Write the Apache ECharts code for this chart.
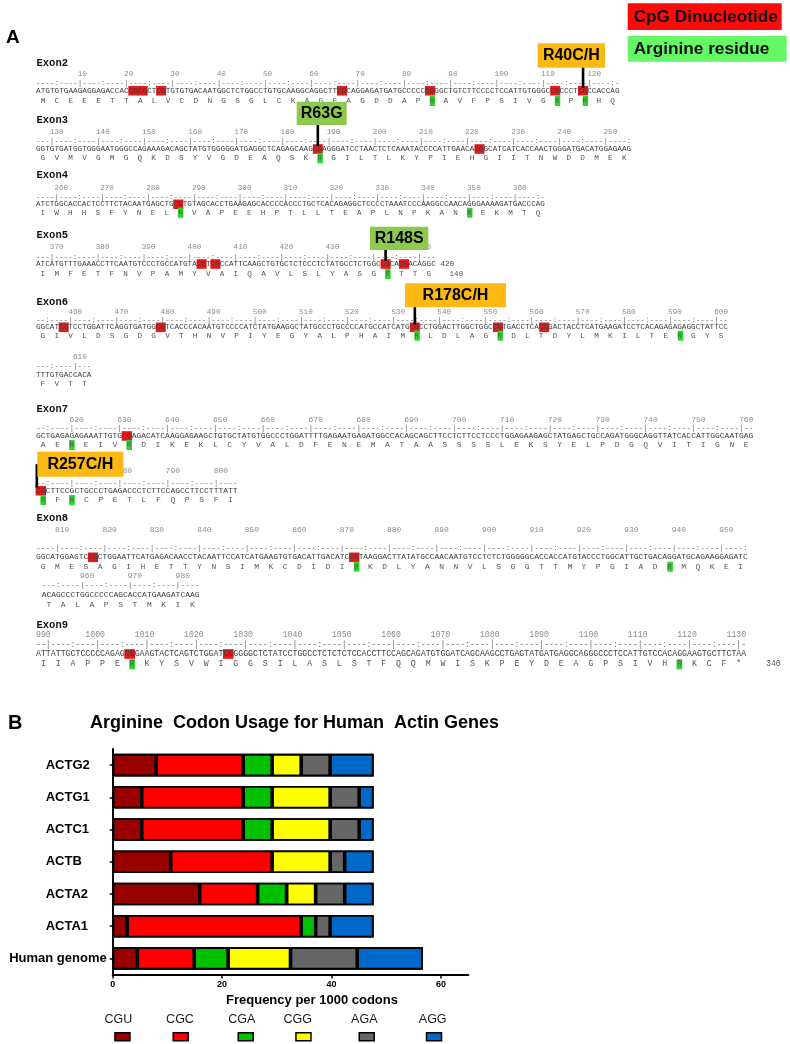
<!DOCTYPE html>
<html><head><meta charset="utf-8">
<script src="https://cdn.jsdelivr.net/npm/echarts@6/dist/echarts.min.js"></script>
<style>html,body{margin:0;padding:0;background:#fff}#c{width:790px;height:1044px}</style>
</head><body><div id="c"></div>
<script>
// ================= DATA =================
// Panel B: arginine codon usage (frequency per 1000 codons)
const genes = ['ACTG2', 'ACTG1', 'ACTC1', 'ACTB', 'ACTA2', 'ACTA1', 'Human genome'];
const codons = ['CGU', 'CGC', 'CGA', 'CGG', 'AGA', 'AGG'];
const CGU = [7.95, 5.3, 5.3, 10.6, 15.9, 2.65, 4.5];
const CGC = [15.9, 18.55, 18.55, 18.55, 10.6, 31.8, 10.4];
const CGA = [5.3, 5.3, 5.3, 0, 5.3, 2.65, 6.2];
const CGG = [5.3, 10.6, 10.6, 10.6, 5.3, 0, 11.4];
const AGA = [5.3, 5.3, 5.3, 2.65, 5.3, 2.65, 12.2];
const AGG = [7.95, 2.65, 2.65, 5.3, 5.3, 7.95, 12.0];
const xTicks = [0, 20, 40, 60];
const chartTitle = 'Arginine  Codon Usage for Human  Actin Genes';
const xName = 'Frequency per 1000 codons';

// Panel A: sequence rows (lowercase cg = highlighted CpG dinucleotide)
const rowExon = ['Exon2', 'Exon3', 'Exon4', 'Exon5', 'Exon6', '', 'Exon7', '', 'Exon8', '', 'Exon9'];
const rowStart = [1, 127, 256, 367, 453, 602, 613, 763, 806, 952, 988];
const rowDNA = [
  'ATG TGT GAA GAG GAG ACC ACc gcg CTc gTG TGT GAC AAT GGC TCT GGC CTG TGC AAG GCA GGC TTc gCA GGA GAT GAT GCC CCC cgG GCT GTC TTC CCC TCC ATT GTG GGC cgC CCT cgC CAC CAG',
  'GGT GTG ATG GTG GGA ATG GGC CAG AAA GAC AGC TAT GTG GGG GAT GAG GCT CAG AGC AAG cgA GGG ATC CTA ACT CTC AAA TAC CCC ATT GAA CAc gGC ATC ATC ACC AAC TGG GAT GAC ATG GAG AAG',
  'ATC TGG CAC CAC TCC TTC TAC AAT GAG CTG cgT GTA GCA CCT GAA GAG CAC CCC ACC CTG CTC ACA GAG GCT CCC CTA AAT CCC AAG GCC AAC AGG GAA AAG ATG ACC CAG',
  'ATC ATG TTT GAA ACC TTC AAT GTC CCT GCC ATG TAc gTc gCC ATT CAA GCT GTG CTC TCC CTC TAT GCC TCT GGC cgC Acg ACA GGC',
  'GGC ATc gTC CTG GAT TCA GGT GAT GGc gTC ACC CAC AAT GTC CCC ATC TAT GAA GGC TAT GCC CTG CCC CAT GCC ATC ATG cgC CTG GAC TTG GCT GGC cgT GAC CTC Acg GAC TAC CTC ATG AAG ATC CTC ACA GAG AGA GGC TAT TCC',
  'TTT GTG ACC ACA',
  'GCT GAG AGA GAA ATT GTG cgA GAC ATC AAG GAG AAG CTG TGC TAT GTG GCC CTG GAT TTT GAG AAT GAG ATG GCC ACA GCA GCT TCC TCT TCC TCC CTG GAG AAG AGC TAT GAG CTG CCA GAT GGG CAG GTT ATC ACC ATT GGC AAT GAG',
  'cgC TTC CGC TGC CCT GAG ACC CTC TTC CAG CCT TCC TTT ATT',
  'GGC ATG GAG TCc gCT GGA ATT CAT GAG ACA ACC TAC AAT TCC ATC ATG AAG TGT GAC ATT GAC ATC cgT AAG GAC TTA TAT GCC AAC AAT GTC CTC TCT GGG GGC ACC ACC ATG TAC CCT GGC ATT GCT GAC AGG ATG CAG AAG GAG ATC',
  'ACA GCC CTG GCC CCC AGC ACC ATG AAG ATC AAG',
  'ATT ATT GCT CCC CCA GAG cgG AAG TAC TCA GTC TGG ATc gGG GGC TCT ATC CTG GCC TCT CTC TCC ACC TTC CAG CAG ATG TGG ATC AGC AAG CCT GAG TAT GAT GAG GCA GGG CCC TCC ATT GTC CAC AGG AAG TGC TTC TAA'
];
const rowProtein = [
  'MCEEETTALVCDNGSGLCKAGFAGDDAPRAVFPSIVGRPRHQ',
  'GVMVGMGQKDSYVGDEAQSKRGILTLKYPIEHGIITNWDDMEK',
  'IWHHSFYNELRVAPEEHPTLLTEAPLNPKANREKMTQ',
  'IMFETFNVPAMYVAIQAVLSLYASGRTTG',
  'GIVLDSGDGVTHNVPIYEGYALPHAIMRLDLAGRDLTDYLMKILTERGYS',
  'FVTT',
  'AEREIVRDIKEKLCYVALDFENEMATAASSSSLEKSYELPDGQVITIGNE',
  'RFRCPETLFQPSFI',
  'GMESAGIHETTYNSIMKCDIDIRKDLYANNVLSGGTTMYPGIADRMQKEI',
  'TALAPSTMKIK',
  'IIAPPERKYSVWIGGSILASLSTFQQMWISKPEYDEAGPSIVHRKCF*'
];
const rowDNASuffix = ['', '', '', ' 420', '', '', '', '', '', '', ''];
const rowProteinSuffix = ['', '', '', '   140', '', '', '', '', '', '', '    340'];

const mutText = ['R40C/H', 'R63G', 'R148S', 'R178C/H', 'R257C/H'];
const mutRow = [0, 1, 3, 4, 7];
const mutCodon = [39, 20, 25, 27, 0];
const keyText = ['CpG Dinucleotide', 'Arginine residue'];

// ================= LAYOUT / STYLE =================
const rowLayout = [
  {lab: 63.3, num: 74, rul: 82.7, dna: 90.7, pro: 101, cw: 4.636, x0: 36, ns: 0},
  {lab: 120, num: 131.7, rul: 140.7, dna: 149, pro: 158.3, cw: 4.62, x0: 36, ns: 0},
  {lab: 175, num: 188.3, rul: 196.7, dna: 204.3, pro: 212.7, cw: 4.59, x0: 36, ns: 0},
  {lab: 235.7, num: 247.3, rul: 256.7, dna: 264, pro: 274, cw: 4.6, x0: 36, ns: 0},
  {lab: 302.3, num: 311.7, rul: 320, dna: 327.3, pro: 335.7, cw: 4.62, x0: 36, ns: 0},
  {lab: 0, num: 357.3, rul: 366, dna: 375, pro: 384, cw: 4.62, x0: 36, ns: 0},
  {lab: 409.3, num: 420, rul: 428.3, dna: 436, pro: 445, cw: 4.78, x0: 36, ns: 0},
  {lab: 0, num: 470.7, rul: 482.7, dna: 490.7, pro: 500, cw: 4.8, x0: 36, ns: 0},
  {lab: 518.3, num: 530, rul: 548.3, dna: 557.3, pro: 566.7, cw: 4.75, x0: 36, ns: 0},
  {lab: 0, num: 575.7, rul: 585, dna: 595, pro: 605, cw: 4.78, x0: 41.7, ns: 0},
  {lab: 625, num: 635, rul: 645, dna: 654, pro: 664.3, cw: 4.93, x0: 36, ns: -2}
];
const mutBox = [[537.7, 43.3, 605, 67.7], [296.7, 101.7, 346.7, 125], [370, 226.7, 428.3, 250], [405, 283.3, 506, 307.3], [37.3, 451.7, 123.3, 476.7]];
const mutColor = ['#fdb913', '#8dc94f', '#8dc94f', '#fdb913', '#fdb913'];
const mutDx = [0, 0, 0, 0, -4];
const keyBox = [[627.7, 3.3, 781.7, 30], [627.7, 36, 786.7, 61.7]];
const keyColor = ['#ff0a0a', '#66f766'];
const codonColors = ['#990000', '#ff0000', '#00c000', '#ffff00', '#666666', '#0068c8'];
const legBoxX = [121.7, 180, 245, 302.7, 366, 433.3];
const legTextX = [118.3, 180, 241.7, 297.7, 364.3, 432.7];

const mono = "'Liberation Mono','DejaVu Sans Mono',monospace";
const sans = "'Liberation Sans',Arial,Helvetica,sans-serif";

function T(x, y, text, font, fill, align, z) {
  return {type: 'text', x: x, y: y, z: z || 3, silent: true,
    style: {text: text, font: font, fill: fill, align: align || 'left', verticalAlign: 'middle',
      textAlign: align || 'left', textVerticalAlign: 'middle'}};
}
function Rc(x, y, w, h, fill, z) {
  return {type: 'rect', z: z || 1, silent: true, shape: {x: x, y: y, width: w, height: h}, style: {fill: fill}};
}

const G = [];
G.push(T(6, 38, 'A', 'bold 19px ' + sans, '#000'));
G.push(T(8, 723, 'B', 'bold 20px ' + sans, '#000'));
G.push(T(90, 723, chartTitle, 'bold 18px ' + sans, '#000'));
keyText.forEach((t, i) => {
  const b = keyBox[i];
  G.push(Rc(b[0], b[1], b[2] - b[0], b[3] - b[1], keyColor[i], 1));
  G.push(T(b[0] + 6, (b[1] + b[3]) / 2 + 0.5, t, 'bold 17.2px ' + sans, '#111', 'left', 3));
});

const rowSeq = rowDNA.map(s => s.replace(/ /g, ''));
rowSeq.forEach((seq, i) => {
  const L = rowLayout[i], cw = L.cw, x0 = L.x0, fs = (cw / 0.6).toFixed(2);
  const n = seq.length, start = rowStart[i];
  if (rowExon[i]) G.push(T(36.5, L.lab, rowExon[i], 'bold 10.5px ' + mono, '#111'));
  let rul = '';
  const nums = new Array(n + 6).fill(' ');
  for (let k = 0; k < n; k++) {
    const p = start + k;
    rul += (p % 10 === 0) ? '|' : (p % 5 === 0 ? ':' : '-');
    if (p % 10 === 0) {
      const s = String(p);
      const c0 = k + L.ns;
      if (c0 >= 0) for (let j = 0; j < s.length; j++) nums[c0 + j] = s[j];
    }
  }
  G.push(T(x0, L.num, nums.join(''), fs + 'px ' + mono, '#8c8c8c'));
  G.push(T(x0, L.rul, rul, fs + 'px ' + mono, '#707070'));
  for (let k = 0; k < n - 1; k++) {
    if (seq[k] === 'c' && seq[k + 1] === 'g') {
      G.push(Rc(x0 + k * cw - 0.4, L.dna - 4.8, 2 * cw + 0.8, 9.6, '#e41a1c', 1));
    }
  }
  G.push(T(x0, L.dna, seq.toUpperCase() + rowDNASuffix[i], fs + 'px ' + mono, '#3c3c3c'));
  const prot = rowProtein[i];
  const pl = new Array(n).fill(' ');
  for (let c = 0; c < prot.length; c++) {
    pl[3 * c + 1] = prot[c];
    if (prot[c] === 'R') G.push(Rc(x0 + (3 * c + 1) * cw - 0.4, L.pro - 5, cw + 0.8, 10, '#26d926', 1));
  }
  G.push(T(x0, L.pro, pl.join('') + rowProteinSuffix[i], fs + 'px ' + mono, '#555'));
});

mutText.forEach((t, i) => {
  const L = rowLayout[mutRow[i]], b = mutBox[i];
  const lx = L.x0 + mutCodon[i] * 3 * L.cw + L.cw + mutDx[i];
  G.push({type: 'line', z: 4, silent: true, shape: {x1: lx, y1: (b[1] + b[3]) / 2, x2: lx, y2: L.dna - 3},
    style: {stroke: '#000', lineWidth: 2.6}});
  G.push(Rc(b[0], b[1], b[2] - b[0], b[3] - b[1], mutColor[i], 5));
  G.push(T((b[0] + b[2]) / 2, (b[1] + b[3]) / 2 + 0.5, t, 'bold 16px ' + sans, '#000', 'center', 6));
});

codons.forEach((c, i) => G.push(T(legTextX[i], 1020, c, '12.5px ' + sans, '#1a1a1a', 'center')));

// ================= CHART =================
const codonValues = [CGU, CGC, CGA, CGG, AGA, AGG];
const totals = genes.map((g, j) => codonValues.reduce((s, arr) => s + arr[j], 0));
const chart = echarts.init(document.getElementById('c'));
const stackSeries = codons.map((c, i) => ({
  name: c, type: 'bar', stack: 'total', data: codonValues[i], barWidth: '70%', barGap: '-100%', z: 3,
  itemStyle: {color: codonColors[i], borderColor: '#000', borderWidth: 1.8},
  emphasis: {disabled: true}
}));
// black outline underlay (fills any hairline gaps between segment borders)
stackSeries.unshift({
  name: 'outline', type: 'bar', data: totals, barWidth: '70%', barGap: '-100%', z: 2, silent: true,
  itemStyle: {color: '#000'}, emphasis: {disabled: true}
});
chart.setOption({
  animation: false,
  backgroundColor: '#fff',
  grid: {left: 112.7, top: 749, width: 355.6, height: 225.5, containLabel: false},
  xAxis: {
    type: 'value', min: 0, max: 65, interval: 20,
    axisLine: {show: true, lineStyle: {color: '#000', width: 2}},
    axisTick: {show: true, length: 4, lineStyle: {color: '#000', width: 1.5}, customValues: xTicks},
    axisLabel: {color: '#000', fontSize: 9, fontWeight: 'bold', fontFamily: sans, margin: 6, customValues: xTicks},
    splitLine: {show: false},
    name: xName, nameLocation: 'middle', nameGap: 19,
    nameTextStyle: {color: '#000', fontSize: 13, fontWeight: 'bold', fontFamily: sans, padding: [0, 0, 0, 43]}
  },
  yAxis: {
    type: 'category', data: genes, inverse: true,
    axisLine: {show: true, lineStyle: {color: '#000', width: 2}},
    axisTick: {show: true, length: 3, alignWithLabel: true, lineStyle: {color: '#000', width: 1.5}},
    axisLabel: {
      margin: 6, color: '#000', fontSize: 13, fontWeight: 'bold', fontFamily: sans,
      formatter: v => v === 'Human genome' ? v : '{a|' + v + '}',
      rich: {a: {width: 61, align: 'left', fontSize: 13, fontWeight: 'bold', fontFamily: sans, color: '#000'}}
    }
  },
  legend: codons.map((c, i) => ({
    data: [c], left: legBoxX[i] - 7.5, top: 1032, padding: 0, itemGap: 0,
    itemWidth: 15, itemHeight: 8, icon: 'rect', selectedMode: false,
    formatter: () => '', textStyle: {fontSize: 1},
    itemStyle: {borderColor: '#000', borderWidth: 1.5}
  })),
  series: stackSeries,
  graphic: {elements: G}
});
</script>
</body></html>
